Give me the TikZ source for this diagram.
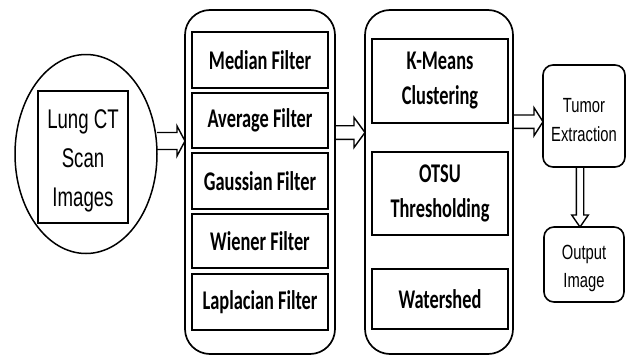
\documentclass[tikz,border=0pt]{standalone}
\usepackage{fontspec}
\newfontfamily\calib[FakeStretch=0.68]{Carlito}
\newfontfamily\arialn[FakeStretch=0.69]{Liberation Sans}
\newfontfamily\arials[FakeStretch=0.72]{Liberation Sans}
\usetikzlibrary{shapes.geometric,calc}

% hollow block arrow from node #1 to node #2 at height #3:
% half shaft #4, half head #5, head length #6
\newcommand\harrow[6]{%
  \draw[arrowline] let \p1=(#1.east |- 0,#3), \p2=(#2.west |- 0,#3) in
    (\x1,\y1+#4pt) -- (\x2-#6pt,\y1+#4pt) -- (\x2-#6pt,\y1+#5pt) -- (\x2,\y1)
    -- (\x2-#6pt,\y1-#5pt) -- (\x2-#6pt,\y1-#4pt) -- (\x1,\y1-#4pt);}

\begin{document}
\begin{tikzpicture}[x=1pt,y=-1pt,
  every node/.style={inner sep=0pt, outer sep=0pt, align=center},
  frame/.style={draw, line width=1.7pt, rounded corners=25pt, minimum width=#1, minimum height=344pt},
  cell/.style={draw, line width=1.8pt, minimum width=136pt, font=\calib\bfseries\fontsize{27}{35}\selectfont},
  rbox/.style={draw, line width=1.6pt, rounded corners=10pt},
  rtext/.style={font=\arials\fontsize{20.5}{28.5}\selectfont},
  arrowline/.style={draw, line width=1.4pt, line join=miter}]
\useasboundingbox (0,0) rectangle (628,356);
\fill[white] (0,0) rectangle (628,356);

% input
\node[draw, ellipse, line width=1.5pt, minimum width=142pt, minimum height=199pt] (circ) at (86,154) {};
\node[draw, line width=1.6pt, minimum width=90pt, minimum height=132pt] (lung) at (83,157) {};
\node[font=\arialn\fontsize{27}{39}\selectfont] (lungtext) at ($(lung.center)+(0,4)$) {Lung CT\\Scan\\Images};

% pre-processing filters
\node[frame=150pt] (filt) at (260,182) {};
\node[cell, minimum height=56pt] (med) at (260,60) {Median Filter};
\node[cell, minimum height=55pt] (avg) at (260,120.5) {Average Filter};
\node[cell, minimum height=56pt] (gau) at (260,181) {Gaussian Filter};
\node[cell, minimum height=54pt] (wie) at (260,241) {Wiener Filter};
\node[cell, minimum height=56pt] (lap) at (260,302) {Laplacian Filter};

% segmentation
\node[frame=148pt] (seg) at (439,182) {};
\node[cell, minimum height=84pt] (kmn) at (440,81) {K-Means\\Clustering};
\node[cell, minimum height=83pt] (ots) at (440,193.5) {OTSU\\Thresholding};
\node[cell, minimum height=60pt] (wat) at (440,299) {Watershed};

% result
\node[rbox, minimum width=82pt, minimum height=102pt] (tumor) at (584,116) {};
\node[rtext] (tumortext) at ($(tumor.center)+(0,4)$) {Tumor\\Extraction};
\node[rbox, minimum width=80pt, minimum height=75pt] (out) at (584,264.5) {};
\node[rtext] (outtext) at ($(out.center)+(0,4)$) {Output\\Image};

% connectors
\harrow{circ}{filt}{141}{8.5}{15}{8}
\harrow{filt}{seg}{132.5}{6.8}{15}{11}
\harrow{seg}{tumor}{121.7}{6.7}{14}{9}
\draw[arrowline] let \p1=(tumor.south -| 580,0), \p2=(out.north -| 580,0) in
  (\x1-3.7pt,\y1) -- (\x1-3.7pt,\y2+12pt) -- (\x1-8.3pt,\y2+12pt) -- (\x1,\y2)
  -- (\x1+8.3pt,\y2+12pt) -- (\x1+3.7pt,\y2+12pt) -- (\x1+3.7pt,\y1);
\end{tikzpicture}
\end{document}
